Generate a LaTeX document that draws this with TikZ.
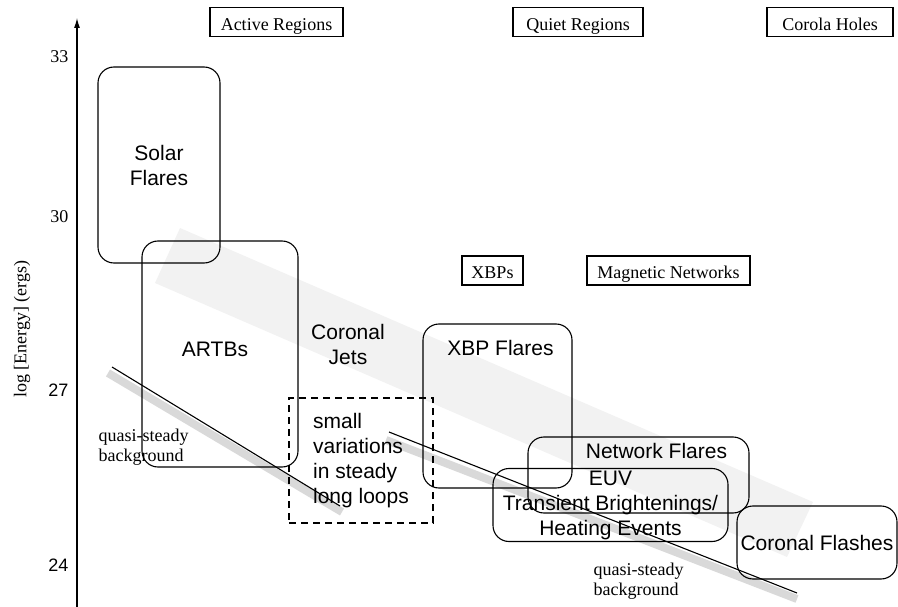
\documentclass[tikz,border=0pt]{standalone}
\usepackage{fontspec}
\setmainfont{Liberation Serif}
\setsansfont{Liberation Sans}
\usetikzlibrary{arrows.meta}
\usetikzlibrary{positioning}

\newcommand\bigsf{\sffamily\fontsize{21}{25}\selectfont}
\newcommand\labrm{\rmfamily\fontsize{18}{20}\selectfont}

\begin{document}
\begin{tikzpicture}[x=1pt,y=-1pt,line width=1.1pt,
  event/.style={draw, rounded corners=16pt, inner sep=0pt, align=center, font=\bigsf},
  region/.style={draw, inner sep=0pt, minimum height=29pt, text height=19pt, text depth=2pt, font=\labrm},
  tick/.style={anchor=east, inner sep=0pt, font=\labrm}]
\useasboundingbox (0,0) rectangle (898,607);

% faint band of the energy trend
\fill[black!5] (180,228) -- (813,502) -- (787,557) -- (155,283) -- cycle;

% quasi-steady background lines with their shadows
\draw[black!15, line width=8pt] (108,373) -- (342,512);
\draw[black!15, line width=8pt] (386,440) -- (797,599);
\draw (112,367) -- (340,506);
\draw (389,432) -- (797,593);

% energy axis
\coordinate (ybot) at (77,607);
\coordinate (ytop) at (77,18);
\draw[-{Latex[length=10pt,width=6pt]}] (ybot) -- (ytop);
\node (ylab) [rotate=90, font=\labrm] at (22,329) {log [Energy] (ergs)};
\node (t33) [tick] at (69,57) {33};
\node (t30) [tick] at (69,217) {30};
\node (t27) [tick, font=\sffamily\fontsize{18}{20}\selectfont] at (69,390) {27};
\node (t24) [tick, font=\sffamily\fontsize{18}{20}\selectfont] at (69,565) {24};

% regions
\node (active) [region, minimum width=133pt] at (276.5,22) {Active Regions};
\node (quiet) [region, minimum width=130pt] at (578,22) {Quiet Regions};
\node (holes) [region, minimum width=126pt] at (830,22) {Corola Holes};
\node (xbps) [region, minimum width=61pt] at (492.5,270.5) {XBPs};
\node (magnet) [region, minimum width=163pt] at (668.5,270.5) {Magnetic Networks};

% events
\node (solar) [event, minimum width=122pt, minimum height=196pt] at (159,165) {Solar\\Flares};
\node (artbs) [event, minimum width=156pt, minimum height=226pt,
  label={[font=\bigsf, anchor=center, xshift=-5pt, yshift=5pt]center:ARTBs}] at (220,354) {};
\node (jets) [font=\bigsf, align=center, inner sep=0pt] at (348,344) {Coronal\\Jets};
\node (loops) [draw, dash pattern=on 7pt off 5pt, align=left, inner sep=0pt, font=\bigsf,
  minimum width=144pt, minimum height=125pt] at (361,460.5)
  {small\\variations\\in steady\\long loops};
\node (xbpfl) [event, minimum width=149pt, minimum height=164pt,
  label={[font=\bigsf, anchor=center, xshift=3pt, yshift=-25pt]north:XBP Flares}] at (497.5,406) {};
\node (netfl) [event, minimum width=221pt, minimum height=76pt,
  label={[font=\bigsf, anchor=center, xshift=18pt, yshift=-15pt]north:Network Flares}] at (638.5,475) {};
\node (euv) [event, minimum width=235pt, minimum height=73pt] at (610.5,505)
  {EUV\\Transient Brightenings/\\Heating Events};
\node (flash) [event, minimum width=160pt, minimum height=73pt] at (817,542.5) {Coronal Flashes};

% background labels
\node (bgleft) [anchor=north west, align=left, inner sep=0pt, font=\labrm] at (98,428) {quasi-steady\\background};
\node (bgright) [anchor=north west, align=left, inner sep=0pt, font=\labrm] at (593,562) {quasi-steady\\background};
\end{tikzpicture}
\end{document}
